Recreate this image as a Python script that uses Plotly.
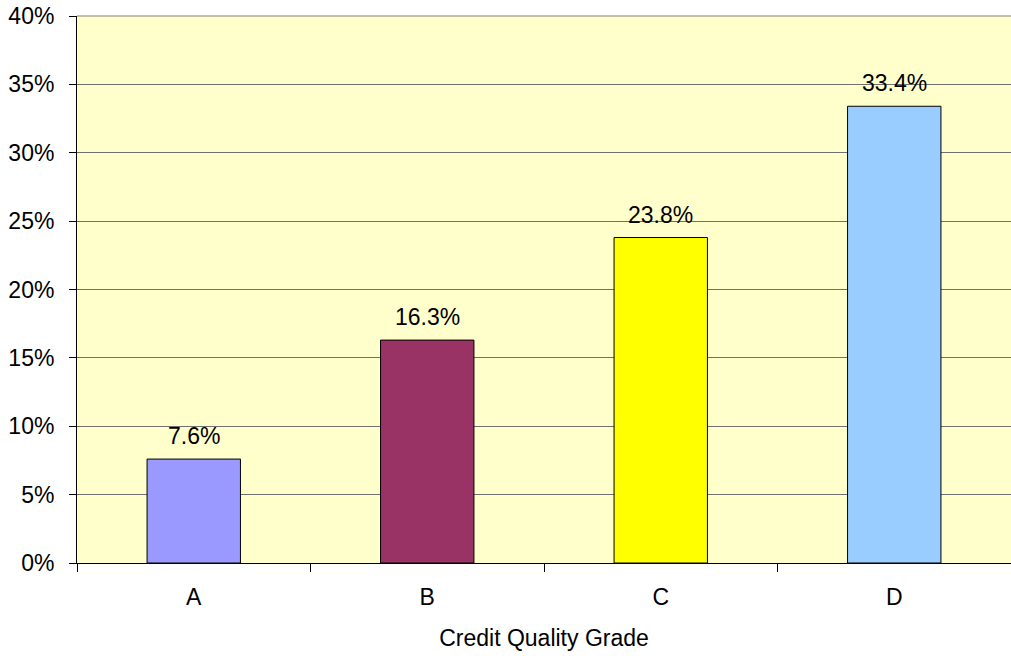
import plotly.graph_objects as go

grades = ["A", "B", "C", "D"]
shares = [7.6, 16.3, 23.8, 33.4]
bar_colors = ["#9999FF", "#993366", "#FFFF00", "#99CCFF"]
y_ticks = [0, 5, 10, 15, 20, 25, 30, 35, 40]
y_tick_labels = [f"{v}%" for v in y_ticks]

font_family = "Liberation Sans, Arial, sans-serif"
font_size = 23

fig = go.Figure(
    go.Bar(
        x=grades,
        y=shares,
        width=0.4,
        marker=dict(color=bar_colors, line=dict(color="#000000", width=1)),
        hoverinfo="skip",
    )
)

for g, v in zip(grades, shares):
    fig.add_annotation(
        x=g, y=v, text=f"{v:.1f}%", showarrow=False,
        yanchor="bottom", yshift=8,
        font=dict(family=font_family, size=font_size, color="#000000"),
    )

# top edge of the plotting area
fig.add_shape(
    type="line", xref="paper", yref="paper",
    x0=0, x1=1, y0=1, y1=1,
    line=dict(color="#808080", width=1),
)

fig.update_layout(
    width=1011, height=656,
    margin=dict(l=77, r=0, t=16, b=93),
    paper_bgcolor="#FFFFFF",
    plot_bgcolor="#FFFFCC",
    showlegend=False,
    bargap=0.6,
    font=dict(family=font_family, size=font_size, color="#000000"),
)

fig.update_xaxes(
    type="category",
    showline=True, linecolor="#000000", linewidth=1,
    ticks="outside", tickson="boundaries", ticklen=8, tickcolor="#000000",
    ticklabelstandoff=13,
    showgrid=False,
    title=dict(text="Credit Quality Grade", font=dict(size=font_size), standoff=21),
    tickfont=dict(size=font_size),
)

fig.update_yaxes(
    range=[0, 40],
    tickvals=y_ticks, ticktext=y_tick_labels,
    showline=True, linecolor="#000000", linewidth=1,
    ticks="outside", ticklen=7, tickcolor="#000000",
    ticklabelstandoff=10,
    showgrid=True, gridcolor="#707070", gridwidth=1,
    zeroline=False,
    tickfont=dict(size=font_size),
)

fig.write_html("out.html")
